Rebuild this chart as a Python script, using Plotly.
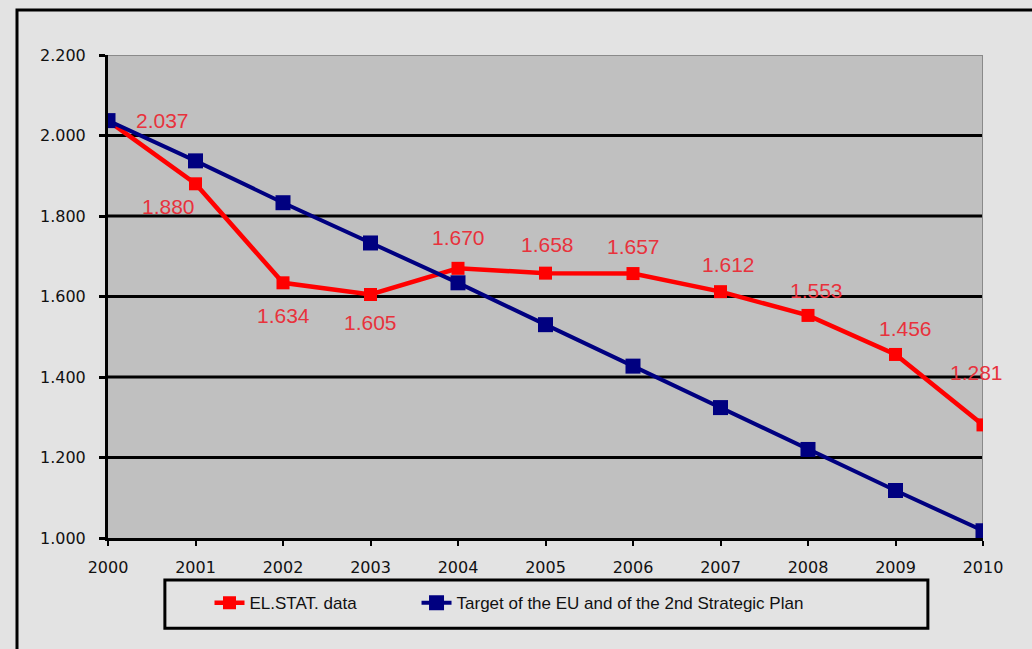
import plotly.graph_objects as go

# Yearly values (thousands), shown with "." as thousands separator
years = [2000, 2001, 2002, 2003, 2004, 2005, 2006, 2007, 2008, 2009, 2010]
elstat = [2037, 1880, 1634, 1605, 1670, 1658, 1657, 1612, 1553, 1456, 1281]
target = [2037, 1937, 1833, 1733, 1634, 1530, 1427, 1324, 1220, 1118, 1018]
y_ticks = [1000, 1200, 1400, 1600, 1800, 2000, 2200]
y_tick_text = ["1.000", "1.200", "1.400", "1.600", "1.800", "2.000", "2.200"]

series_names = ["EL.STAT. data", "Target of the EU and of the 2nd Strategic Plan"]

# pixel offsets for each data label relative to its point
label_dx = [54, -27, 0, 0, 0, 2, 0, 8, 8, 10, -7]
label_dy = [0, 23, 33, 28, -31, -29, -27, -27, -25, -26, -52]

RED = "#ff0000"
BLUE = "#000080"
LABEL_RED = "#e8323c"
BG = "#e3e3e3"
TICK_FONT = dict(family="DejaVu Sans", size=16, color="#111")
LEGEND_FONT = dict(family="Arial", size=17, color="#111")

fig = go.Figure()
fig.add_trace(go.Scatter(
    x=years, y=elstat, name=series_names[0], mode="lines+markers",
    line=dict(color=RED, width=4.5),
    marker=dict(symbol="square", size=13, color=RED),
    legend="legend",
))
fig.add_trace(go.Scatter(
    x=years, y=target, name=series_names[1], mode="lines+markers",
    line=dict(color=BLUE, width=4),
    marker=dict(symbol="square", size=15, color=BLUE),
    legend="legend2",
))

for x, y, dx, dy in zip(years, elstat, label_dx, label_dy):
    fig.add_annotation(
        x=x, y=y, text=f"{y/1000:.3f}", showarrow=False,
        xshift=dx, yshift=-dy,
        font=dict(family="Arial", size=21, color=LABEL_RED),
    )

# horizontal grid lines (black)
for v in y_ticks[1:-1]:
    fig.add_shape(type="line", xref="x", yref="y", x0=2000, x1=2010, y0=v, y1=v,
                  line=dict(color="black", width=3), layer="below")

# plot-area top and right border
fig.add_shape(type="line", xref="x", yref="y", x0=2000, x1=2010, y0=2200, y1=2200,
              line=dict(color="#8a8a8a", width=2), layer="below")
fig.add_shape(type="line", xref="x", yref="y", x0=2010, x1=2010, y0=1000, y1=2200,
              line=dict(color="#8a8a8a", width=2), layer="below")

# outer chart frame
fig.add_shape(type="rect", xref="paper", yref="paper",
              x0=-0.104, x1=1.2, y0=-0.3, y1=1.093,
              line=dict(color="black", width=3), fillcolor="rgba(0,0,0,0)")

# legend box
fig.add_shape(type="rect", xref="paper", yref="paper",
              x0=0.065, x1=0.937, y0=-0.187, y1=-0.087,
              line=dict(color="black", width=3), fillcolor="rgba(0,0,0,0)")

legend_common = dict(orientation="h", xanchor="left", y=-0.135, yanchor="middle",
                     bgcolor="rgba(0,0,0,0)", borderwidth=0, font=LEGEND_FONT,
                     itemwidth=30)

fig.update_layout(
    width=1032, height=649,
    margin=dict(l=108, r=49, t=55, b=111),
    paper_bgcolor=BG, plot_bgcolor="#c0c0c0",
    showlegend=True,
    legend=dict(x=0.116, **legend_common),
    legend2=dict(x=0.3526, **legend_common),
    xaxis=dict(range=[2000, 2010], tickvals=years, showgrid=False, zeroline=False,
               showline=True, linecolor="black", linewidth=3,
               ticks="outside", ticklen=5, tickwidth=2, tickcolor="black",
               ticklabelstandoff=8, tickfont=TICK_FONT),
    yaxis=dict(range=[1000, 2200], tickvals=y_ticks, ticktext=y_tick_text,
               showgrid=False, zeroline=False,
               showline=True, linecolor="black", linewidth=3,
               ticks="outside", ticklen=6, tickwidth=3, tickcolor="black",
               ticklabelstandoff=10, tickfont=TICK_FONT),
)

fig.write_html("out.html")
